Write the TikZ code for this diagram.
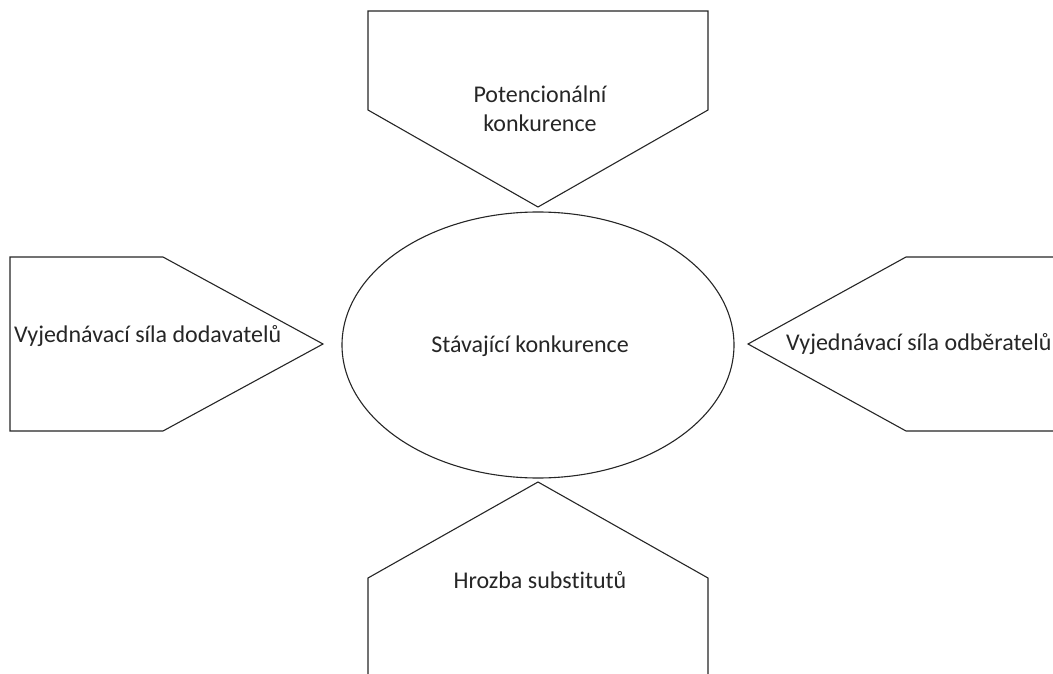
\documentclass[tikz,border=0pt]{standalone}
\usepackage{fontspec}
\setmainfont[Ligatures=NoCommon]{Carlito}
\begin{document}
\begin{tikzpicture}[x=1pt,y=-1pt,
  shape line/.style={draw=black!85,line width=1.1pt,line join=miter,fill=white},
  label text/.style={font=\fontsize{24}{29}\selectfont,text=black!85,inner sep=0pt}]
\useasboundingbox (0,0) rectangle (1053,674);
\begin{scope}
\clip (0,0) rectangle (1053,674);
% top force: potential entrants
\draw[shape line] (368,11) -- (708,11) -- (708,110) -- (538,207) -- (368,110) -- cycle;
% left force: suppliers
\draw[shape line] (10,257) -- (163,257) -- (323,344) -- (163,431) -- (10,431) -- cycle;
% right force: buyers
\draw[shape line] (1060,257) -- (906,257) -- (748,344) -- (906,431) -- (1060,431) -- cycle;
% bottom force: substitutes
\draw[shape line] (368,690) -- (368,578) -- (538,482) -- (708,578) -- (708,690);
% central rivalry
\draw[shape line] (538,345) ellipse [x radius=196, y radius=133];
\end{scope}
\node[label text,align=center] (potential) at (540,109) {Potencionální\\konkurence};
\node[label text,anchor=west] (suppliers) at (14,336) {Vyjednávací síla dodavatelů};
\node[label text,anchor=west] (buyers) at (786,344) {Vyjednávací síla odběratelů};
\node[label text] (substitutes) at (540,580) {Hrozba substitutů};
\node[label text] (rivalry) at (530,346) {Stávající konkurence};
\end{tikzpicture}
\end{document}
